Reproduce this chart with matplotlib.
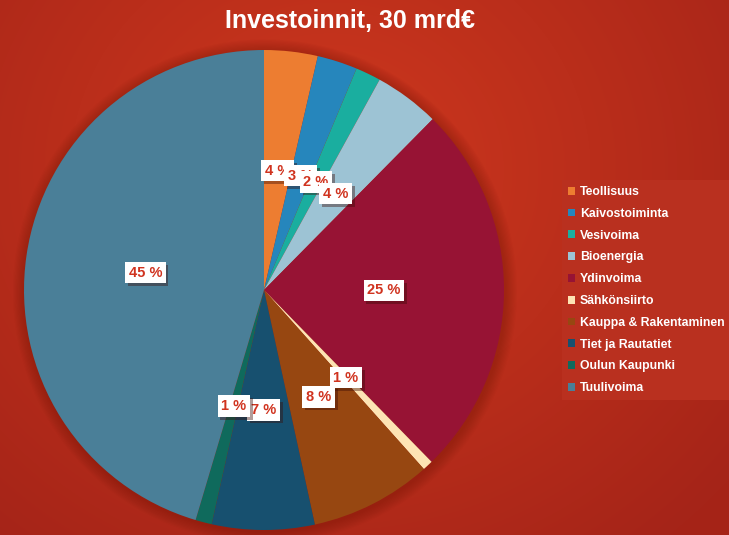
import numpy as np
import matplotlib
matplotlib.use("Agg")
import matplotlib.pyplot as plt
import matplotlib.patheffects as pe
from matplotlib.patches import Circle

# data (osuus prosentteina, luettu kuvasta)
categories = ["Teollisuus", "Kaivostoiminta", "Vesivoima", "Bioenergia", "Ydinvoima",
              "Sähkönsiirto", "Kauppa & Rakentaminen", "Tiet ja Rautatiet",
              "Oulun Kaupunki", "Tuulivoima"]
shares = [3.6, 2.7, 1.7, 4.4, 25.3, 0.7, 8.2, 6.9, 1.1, 45.4]
colors = ["#ed7d31", "#2686bc", "#1aae9f", "#9dc3d4", "#971334",
          "#fde4b4", "#974711", "#17506f", "#0f6a5c", "#4a7f98"]
title = "Investoinnit, 30 mrd€"

plt.rcParams['font.family'] = ['Liberation Sans', 'DejaVu Sans']

W, H = 729, 535
fig = plt.figure(figsize=(W / 100, H / 100), dpi=100)

# taustan säteittäinen liukuväri
bg = fig.add_axes([0, 0, 1, 1])
yy, xx = np.mgrid[0:H, 0:W]
d = np.sqrt(((xx - 330) / 520.0) ** 2 + ((yy - 170) / 480.0) ** 2)
d = np.clip(d, 0, 1)
c0 = np.array([0xcf, 0x38, 0x1e]) / 255.0
c1 = np.array([0xa5, 0x24, 0x18]) / 255.0
img = c0[None, None, :] * (1 - d[..., None]) + c1[None, None, :] * d[..., None]
bg.imshow(img, aspect='auto', extent=[0, 1, 0, 1], origin='upper')
bg.set_axis_off()

# piirakka
cx, cy, r = 264, 290, 240
ax = fig.add_axes([(cx - r) / W, (H - cy - r) / H, 2 * r / W, 2 * r / H])
ax.set_xlim(-1, 1)
ax.set_ylim(-1, 1)
ax.set_axis_off()

# pehmeä varjo piirakan alle
for k in range(10):
    rr = 1.0 + 0.005 * (k + 1)
    ax.add_patch(Circle((0.004, -0.006), rr, color="#6a1208", alpha=0.035,
                        lw=0, clip_on=False, zorder=0))

wedges, texts, autotexts = ax.pie(
    shares, colors=colors, startangle=90, counterclock=False, radius=1,
    autopct=lambda p: f"{p:.0f} %", pctdistance=0.5,
    wedgeprops=dict(linewidth=0),
    textprops=dict(color="#d0331f", fontsize=10.5, fontweight="bold"))
ax.set_xlim(-1, 1)
ax.set_ylim(-1, 1)

for t in autotexts:
    t.set_bbox(dict(boxstyle="square,pad=0.25", facecolor="white", edgecolor="none"))
    t.get_bbox_patch().set_path_effects([
        pe.SimplePatchShadow(offset=(2, -2), shadow_rgbFace="#3a0a05", alpha=0.4),
        pe.Normal()])
    t.set_zorder(5)

fig.text(350 / W, 1 - 21 / H, title, ha="center", va="center", color="white",
         fontsize=18, fontweight="bold",
         family=["Liberation Sans Narrow", "Liberation Sans", "DejaVu Sans"])

leg = fig.legend(wedges, categories, loc="upper left",
                 bbox_to_anchor=(562 / W, 1 - 180 / H),
                 frameon=True, facecolor="#b9301f", edgecolor="none", framealpha=1,
                 fancybox=False, handlelength=0.6, handleheight=0.6,
                 handletextpad=0.35, labelspacing=0.8, borderpad=0.5,
                 prop=dict(size=8.8, weight="bold"), labelcolor="white",
                 borderaxespad=0)
leg.get_frame().set_linewidth(0)

fig.savefig("out.png", dpi=100)
